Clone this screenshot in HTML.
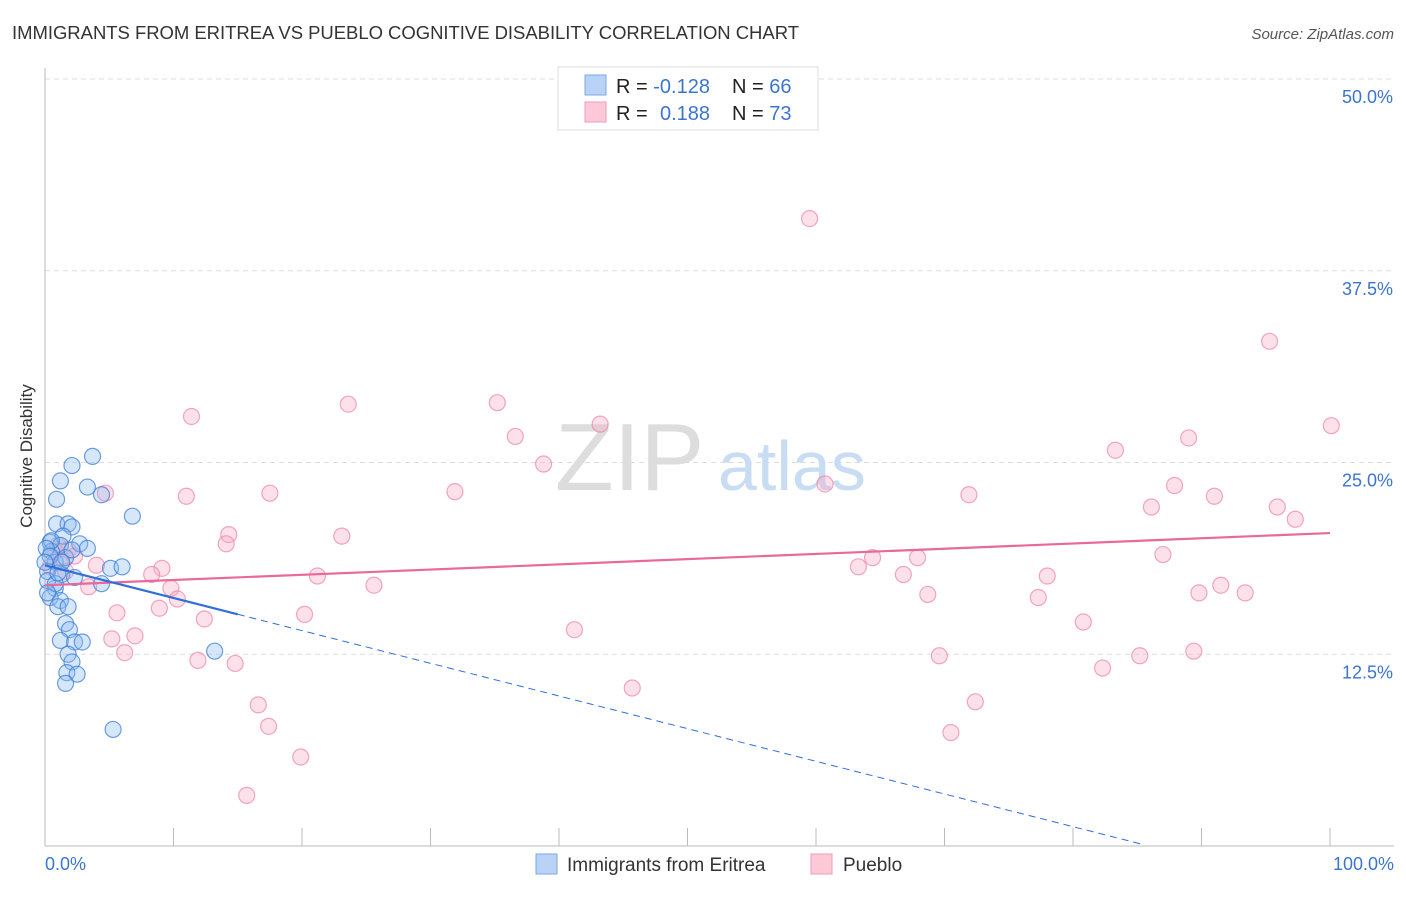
<!DOCTYPE html>
<html><head><meta charset="utf-8"><style>
body{margin:0;background:#fff;font-family:"Liberation Sans",sans-serif;}
svg text{font-family:"Liberation Sans",sans-serif;}
</style></head><body>
<svg id="c" width="1406" height="892" xmlns="http://www.w3.org/2000/svg">
<text x="12" y="39" font-size="18.5" fill="#333" textLength="787">IMMIGRANTS FROM ERITREA VS PUEBLO COGNITIVE DISABILITY CORRELATION CHART</text>
<text x="1394" y="39" font-size="15" fill="#555" text-anchor="end" font-style="italic">Source: ZipAtlas.com</text>
<text x="32" y="456" font-size="17" fill="#333" text-anchor="middle" transform="rotate(-90 32 456)">Cognitive Disability</text>
<g id="grid"></g>
<text x="555" y="490" font-size="96" fill="#ddd" font-family="Liberation Serif">ZIP</text>
<text x="718" y="490" font-size="70" fill="#c8dcf3">atlas</text>
<g id="pts"></g>
<g id="lines"></g>
<g>
<rect x="558" y="67" width="260" height="63" fill="#fff" stroke="#ddd"/>
<rect x="585" y="75" width="21" height="20" fill="#b8d3f5" stroke="#7aa9e6"/>
<rect x="585" y="102" width="21" height="20" fill="#fbc9d8" stroke="#f09ab5"/>
<text x="616" y="93" font-size="20" fill="#222">R = <tspan fill="#3b75d0">-0.128</tspan></text>
<text x="732" y="93" font-size="20" fill="#222">N = <tspan fill="#3b75d0">66</tspan></text>
<text x="616" y="120" font-size="20" fill="#222">R = <tspan fill="#3b75d0" x="660">0.188</tspan></text>
<text x="732" y="120" font-size="20" fill="#222">N = <tspan fill="#3b75d0">73</tspan></text>
</g>
<g>
<rect x="536" y="854" width="21" height="20" fill="#b8d3f5" stroke="#7aa9e6"/>
<text x="567" y="871" font-size="19" fill="#333">Immigrants from Eritrea</text>
<rect x="811" y="854" width="21" height="20" fill="#fbc9d8" stroke="#f09ab5"/>
<text x="843" y="871" font-size="19" fill="#333">Pueblo</text>
</g>
</svg>
<script>
const yTicks=[12.5,25,37.5,50];
const yTickLabels=["12.5%","25.0%","37.5%","50.0%"];
const xTickLabels=["0.0%","100.0%"];
const eritreaX=[3.7,2.1,1.2,0.9,3.3,4.4,6.8,0.9,1.8,2.1,1.4,0.4,1.2,2.7,3.3,0.5,0.8,1.6,0.2,1.3,2.3,4.4,5.1,6.0,2.1,0.8,0.4,1.2,1.0,1.8,1.6,1.9,1.2,2.3,2.9,1.8,2.1,1.7,2.5,1.6,5.3,13.2,0.2,0.8,0.5,0.1,0.4,1.0,1.3,0.2,0.0];
const eritreaY=[25.4,24.8,23.8,22.6,23.4,22.9,21.5,21.0,21.0,20.8,20.2,19.8,19.6,19.7,19.4,19.2,18.5,18.8,17.9,17.7,17.5,17.1,18.1,18.2,19.3,16.8,16.2,16.0,15.6,15.6,14.5,14.1,13.4,13.3,13.3,12.5,12.0,11.3,11.2,10.6,7.6,12.7,17.3,17.1,19.9,19.4,18.9,17.8,18.5,16.5,18.5];
const puebloX=[59.5,95.3,100.1,11.4,23.6,35.2,43.2,36.6,38.8,83.3,89.0,60.7,87.9,31.9,17.5,11.0,4.7,71.9,91.0,86.1,95.9,97.3,23.1,14.3,14.1,64.4,67.9,63.3,87.0,1.8,4.0,9.1,8.3,21.2,25.6,66.8,78.0,9.8,10.3,3.4,91.5,89.8,93.4,68.7,77.3,5.6,8.9,20.2,12.4,80.8,41.2,5.2,7.0,6.2,11.9,14.8,69.6,85.2,89.4,82.3,45.7,72.4,16.6,17.4,70.5,19.9,15.7,1.2,1.6,0.8,2.3,0.4,1.0];
const puebloY=[40.9,32.9,27.4,28.0,28.8,28.9,27.5,26.7,24.9,25.8,26.6,23.6,23.5,23.1,23.0,22.8,23.0,22.9,22.8,22.1,22.1,21.3,20.2,20.3,19.7,18.8,18.8,18.2,19.0,19.3,18.3,18.1,17.7,17.6,17.0,17.7,17.6,16.8,16.1,16.9,17.0,16.5,16.5,16.4,16.2,15.2,15.5,15.1,14.8,14.6,14.1,13.5,13.7,12.6,12.1,11.9,12.4,12.4,12.7,11.6,10.3,9.4,9.2,7.8,7.4,5.8,3.3,18.6,17.9,19.2,18.9,18.2,19.6];
const eritreaTrend=[18.3,-0.213]; // intercept, slope per %
const puebloTrend=[17.0,0.034];
const X0=45,X1=1330,YB=846,YT=79;
const sx=v=>X0+(X1-X0)*v/100, sy=v=>YB-(YB-YT)*v/50;
const NS="http://www.w3.org/2000/svg";
function mk(tag,attrs,parent){const e=document.createElementNS(NS,tag);for(const k in attrs)e.setAttribute(k,attrs[k]);parent.appendChild(e);return e;}
const grid=document.getElementById('grid');
yTicks.forEach((t,i)=>{
 const l=mk('line',{x1:X0,x2:1394,y1:sy(t),y2:sy(t),stroke:'#ddd','stroke-dasharray':'5,4'},grid);
 
 
 const tx=mk('text',{x:1393,y:sy(t)+24,'font-size':18,fill:'#3b75d0','text-anchor':'end'},grid);
 tx.textContent=yTickLabels[i];
 
 
});
const ax=mk('line',{x1:X0,x2:X0,y1:68,y2:YB,stroke:'#bbb'},grid);


const xa=mk('line',{x1:X0,x2:1394,y1:YB,y2:YB,stroke:'#bbb'},grid);


for(let i=1;i<=10;i++){const t=mk('line',{x1:sx(i*10),x2:sx(i*10),y1:828,y2:YB,stroke:'#bbb'},grid);
 
 }
const xl0=mk('text',{x:45,y:870,'font-size':18,fill:'#3b75d0'},grid);xl0.textContent=xTickLabels[0];


const xl1=mk('text',{x:1394,y:870,'font-size':18,fill:'#3b75d0','text-anchor':'end'},grid);xl1.textContent=xTickLabels[1];


const pts=document.getElementById('pts');
puebloX.forEach((x,i)=>{const c=mk('circle',{cx:sx(x),cy:sy(puebloY[i]),r:8,fill:'rgba(248,170,195,0.35)',stroke:'rgba(236,130,165,0.7)','stroke-width':1.2},pts);
 
 });
eritreaX.forEach((x,i)=>{const c=mk('circle',{cx:sx(x),cy:sy(eritreaY[i]),r:8,fill:'rgba(140,185,240,0.35)',stroke:'rgba(60,125,215,0.75)','stroke-width':1.2},pts);
 
 });
const lg=document.getElementById('lines');
const pl=mk('line',{x1:sx(0),y1:sy(puebloTrend[0]),x2:sx(100),y2:sy(puebloTrend[0]+puebloTrend[1]*100),stroke:'#e8699a','stroke-width':2.2},lg);


const ey=v=>eritreaTrend[0]+eritreaTrend[1]*v;
const bl=mk('line',{x1:sx(0),y1:sy(ey(0)),x2:sx(15),y2:sy(ey(15)),stroke:'#2f6fd6','stroke-width':2.2},lg);


const bd=mk('line',{x1:sx(15),y1:sy(ey(15)),x2:sx(85.3),y2:sy(ey(85.3)),stroke:'#2f6fd6','stroke-width':1,'stroke-dasharray':'7,5'},lg);


</script>
</body></html>
